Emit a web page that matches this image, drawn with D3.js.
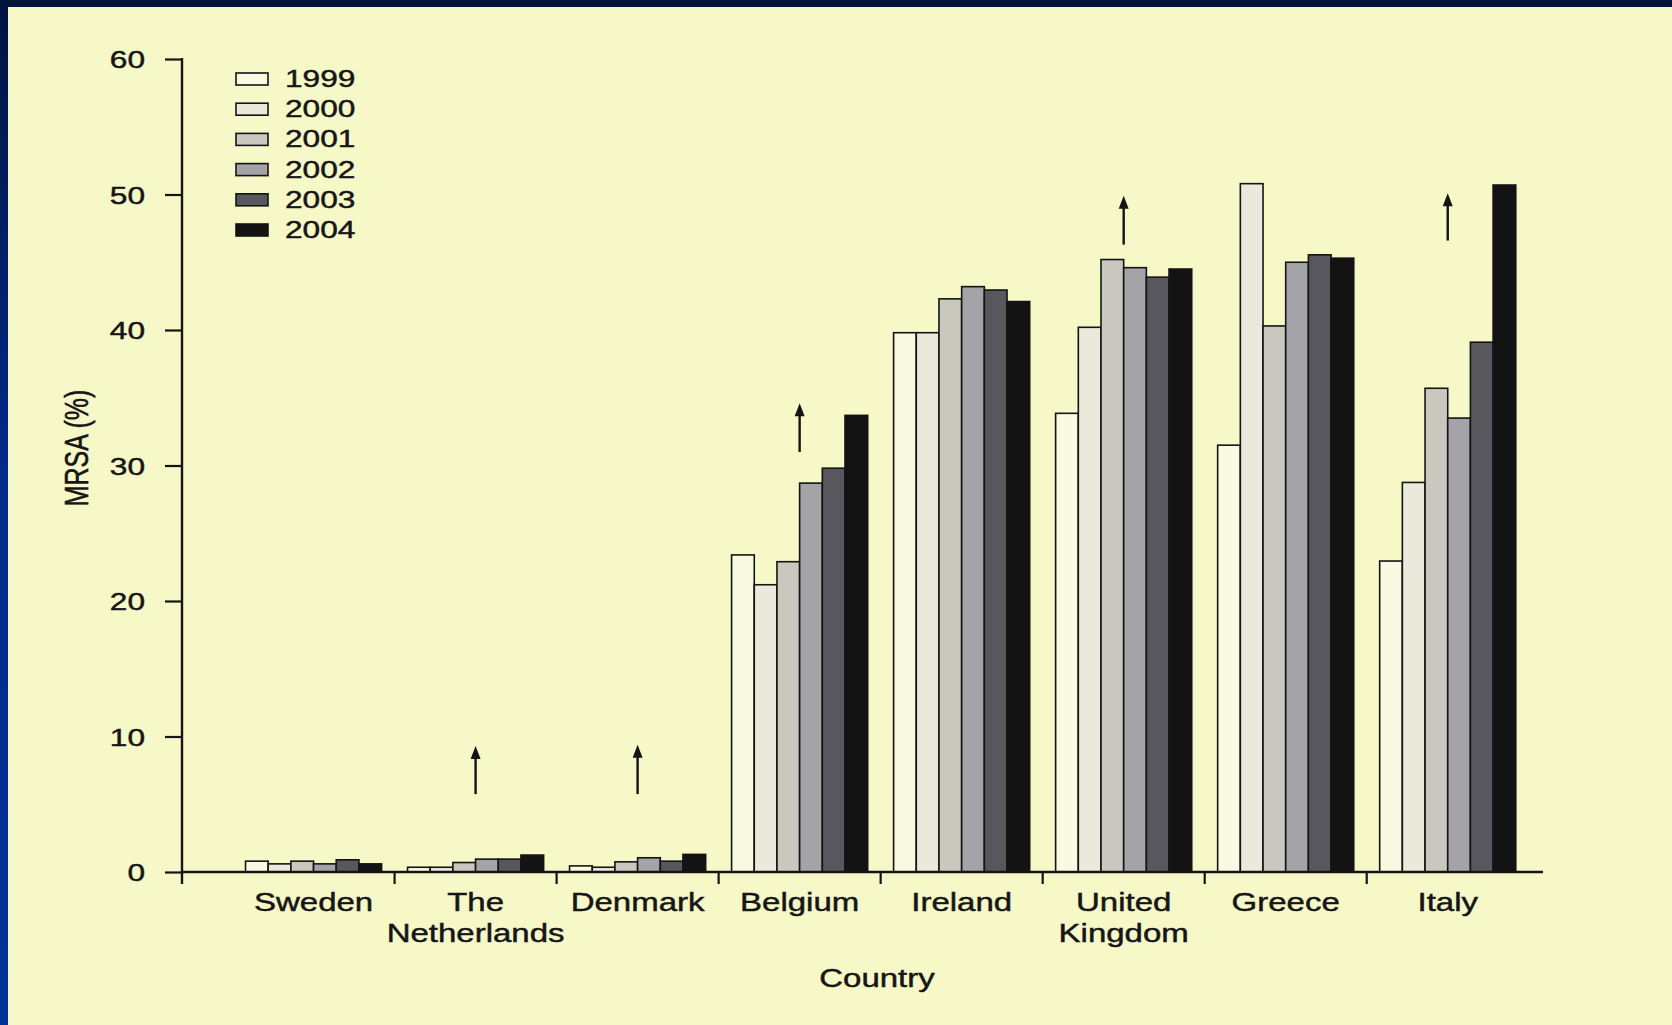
<!DOCTYPE html>
<html>
<head>
<meta charset="utf-8">
<script src="https://cdn.jsdelivr.net/npm/d3@7/dist/d3.min.js"></script>
<style>
  html, body { margin: 0; padding: 0; background: #f7f8c8; }
  svg { display: block; }
  text { font-family: "Liberation Sans", Arial, Helvetica, sans-serif; fill: #161616; stroke: #161616; stroke-width: 0.45px; }
</style>
</head>
<body>
<svg id="chart" width="1672" height="1025"></svg>
<script>
// ---------------- data ----------------
const categories = ["Sweden", "The Netherlands", "Denmark", "Belgium", "Ireland", "United Kingdom", "Greece", "Italy"];
const years = ["1999", "2000", "2001", "2002", "2003", "2004"];
const v1999 = [0.8, 0.35, 0.45, 23.4, 39.8, 33.85, 31.5, 22.95];
const v2000 = [0.6, 0.35, 0.35, 21.2, 39.8, 40.2, 50.8, 28.75];
const v2001 = [0.8, 0.7, 0.75, 22.9, 42.3, 45.2, 40.3, 35.7];
const v2002 = [0.6, 0.95, 1.05, 28.7, 43.2, 44.6, 45.0, 33.5];
const v2003 = [0.9, 0.95, 0.8, 29.8, 42.95, 43.9, 45.55, 39.1];
const v2004 = [0.6, 1.25, 1.3, 33.7, 42.1, 44.5, 45.3, 50.7];
const seriesValues = [v1999, v2000, v2001, v2002, v2003, v2004];
const yTicks = [0, 10, 20, 30, 40, 50, 60];
const arrowCountries = ["The Netherlands", "Denmark", "Belgium", "United Kingdom", "Italy"];
const arrowFrom = [5.75, 5.75, 31.0, 46.3, 46.6];
const arrowTo = [9.3, 9.4, 34.6, 49.9, 50.1];
const yTitle = "MRSA (%)";
const xTitle = "Country";

// ---------------- styles ----------------
const fills = ["#fafae2", "#e9e9dc", "#c8c8bf", "#a3a3a8", "#57575d", "#131313"];
const SX = 1.32; // horizontal stretch of the source lettering

const svg = d3.select("#chart");
const W = 1672, H = 1025;

// background & frame
const defs = svg.append("defs");
const grad = defs.append("linearGradient").attr("id", "leftband")
  .attr("x1", 0).attr("y1", 0).attr("x2", 0).attr("y2", 1);
grad.append("stop").attr("offset", "0%").attr("stop-color", "#001440");
grad.append("stop").attr("offset", "45%").attr("stop-color", "#002a86");
grad.append("stop").attr("offset", "100%").attr("stop-color", "#003399");

svg.append("rect").attr("width", W).attr("height", H).attr("fill", "#f7f8c8");
svg.append("rect").attr("x", 0).attr("y", 0).attr("width", 8).attr("height", H).attr("fill", "url(#leftband)");
svg.append("rect").attr("x", 0).attr("y", 0).attr("width", W).attr("height", 7).attr("fill", "#00143c");

// ---------------- scales ----------------
const axisX = 182, axisRight = 1543;
const y = d3.scaleLinear().domain([0, 60]).range([872, 59]);
const x0 = d3.scaleBand().domain(categories).range([axisX, axisRight])
  .paddingInner(0.16).paddingOuter(0.28).align(0.7);
const x1 = d3.scaleBand().domain(years).range([0, x0.bandwidth()]).padding(0);
const color = d3.scaleOrdinal().domain(years).range(fills);

const g = svg.append("g");

// ---------------- bars ----------------
const groups = g.selectAll("g.grp").data(categories).join("g")
  .attr("class", "grp")
  .attr("transform", d => `translate(${x0(d)},0)`);

groups.selectAll("rect").data((c, ci) => years.map((yr, yi) => ({ yr, v: seriesValues[yi][ci] })))
  .join("rect")
  .attr("x", d => x1(d.yr))
  .attr("y", d => y(d.v))
  .attr("width", x1.bandwidth())
  .attr("height", d => y(0) - y(d.v))
  .attr("fill", d => color(d.yr))
  .attr("stroke", "#141414")
  .attr("stroke-width", 1.6);

// ---------------- y axis ----------------
const yAxis = d3.axisLeft(y).tickValues(yTicks).tickSize(17).tickPadding(20).tickSizeOuter(0);
const ya = g.append("g").attr("transform", `translate(${axisX},0)`).call(yAxis);
ya.select(".domain").remove();
ya.selectAll(".tick line").attr("stroke", "#141414").attr("stroke-width", 2.2);
ya.selectAll(".tick text")
  .attr("x", null).attr("dy", "0.36em")
  .attr("transform", `translate(-37,0) scale(${SX},1)`)
  .style("font-family", "'Liberation Sans', Arial, sans-serif")
  .style("font-size", "24px").attr("fill", "#161616");
g.append("line").attr("x1", axisX).attr("x2", axisX).attr("y1", y(60) - 1).attr("y2", 884)
  .attr("stroke", "#141414").attr("stroke-width", 2.4);

// ---------------- x axis ----------------
g.append("line").attr("x1", axisX).attr("x2", axisRight).attr("y1", y(0)).attr("y2", y(0))
  .attr("stroke", "#141414").attr("stroke-width", 2.4);
const gap = x0.step() * x0.paddingInner();
g.selectAll("line.sep").data(categories.slice(1)).join("line")
  .attr("class", "sep")
  .attr("x1", d => x0(d) - gap / 2).attr("x2", d => x0(d) - gap / 2)
  .attr("y1", y(0)).attr("y2", y(0) + 12)
  .attr("stroke", "#141414").attr("stroke-width", 2.2);

const labels = g.selectAll("g.xl").data(categories).join("g")
  .attr("class", "xl")
  .attr("transform", d => `translate(${x0(d) + x0.bandwidth() / 2},911) scale(${SX},1)`);
labels.each(function (d) {
  const lines = d.split(" ");
  const t = d3.select(this).append("text").attr("text-anchor", "middle").style("font-size", "25px");
  lines.forEach((ln, i) => t.append("tspan").attr("x", 0).attr("y", i * 31).text(ln));
});

// ---------------- arrows ----------------
const arrowData = arrowCountries.map((c, i) => ({ c, from: arrowFrom[i], to: arrowTo[i] }));
const arrows = g.selectAll("g.arrow").data(arrowData).join("g").attr("class", "arrow");
arrows.append("line")
  .attr("x1", d => x0(d.c) + x0.bandwidth() / 2).attr("x2", d => x0(d.c) + x0.bandwidth() / 2)
  .attr("y1", d => y(d.from)).attr("y2", d => y(d.to) + 10)
  .attr("stroke", "#141414").attr("stroke-width", 2.4);
arrows.append("path")
  .attr("d", d => {
    const cx = x0(d.c) + x0.bandwidth() / 2, ty = y(d.to);
    return `M${cx},${ty} L${cx - 5},${ty + 13} L${cx + 5},${ty + 13} Z`;
  })
  .attr("fill", "#141414");

// ---------------- legend ----------------
const legend = g.selectAll("g.leg").data(years).join("g")
  .attr("class", "leg")
  .attr("transform", (d, i) => `translate(236,${79 + i * 30.2})`);
legend.append("rect").attr("x", 0).attr("y", -6).attr("width", 32).attr("height", 12)
  .attr("fill", d => color(d)).attr("stroke", "#141414").attr("stroke-width", 1.6);
legend.append("text")
  .attr("transform", `translate(49,8) scale(${SX},1)`)
  .style("font-size", "24px")
  .text(d => d);

// ---------------- titles ----------------
svg.append("text")
  .attr("transform", `translate(877,987) scale(${SX},1)`)
  .attr("text-anchor", "middle").style("font-size", "25px").text(xTitle);
svg.append("text")
  .attr("transform", `translate(88,448) rotate(-90) scale(1,${SX})`)
  .attr("text-anchor", "middle").style("font-size", "25px").text(yTitle);
</script>
</body>
</html>
